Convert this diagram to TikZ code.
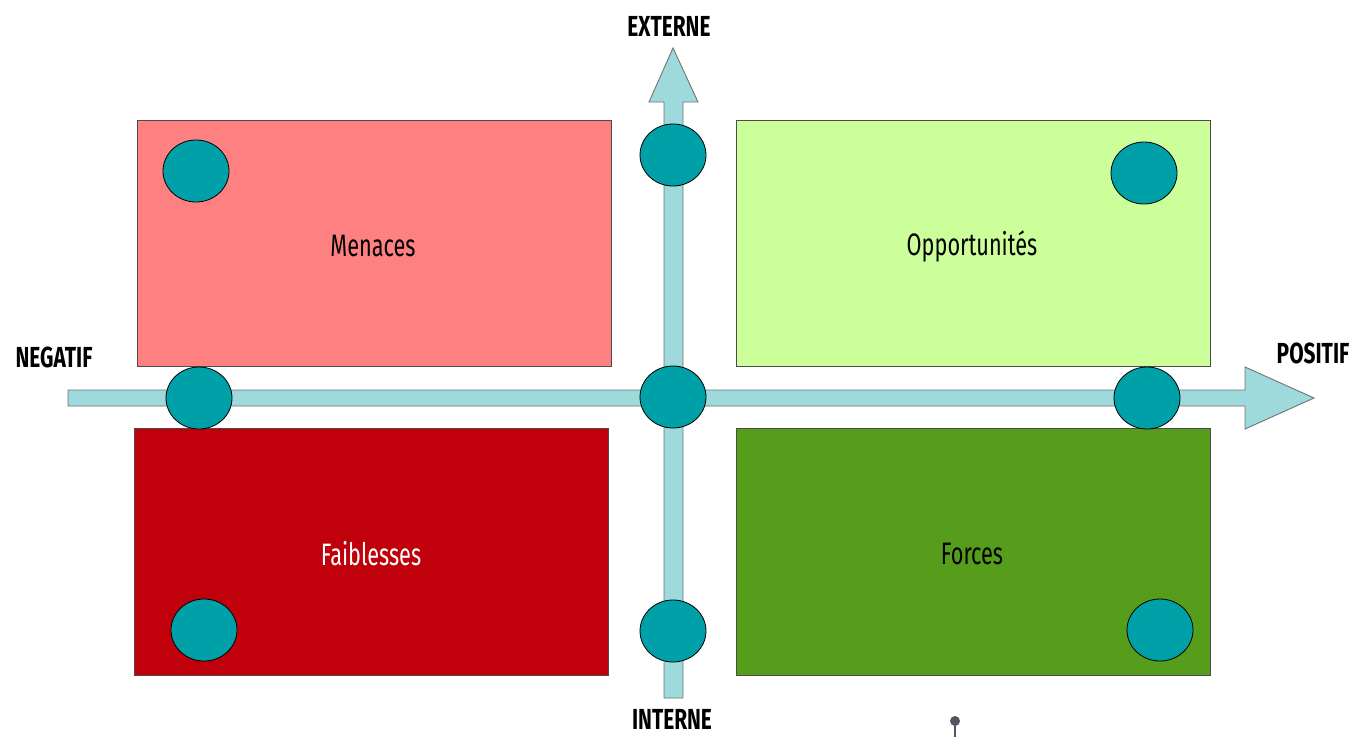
\documentclass[tikz,border=0pt]{standalone}
\usepackage{fontspec}
\setmainfont{Fira Sans}[FakeStretch=0.70]
\newfontfamily\axisfont{Fira Sans}[FakeStretch=0.72,UprightFont=* Bold]
\usetikzlibrary{shapes.geometric}
\definecolor{menc}{HTML}{FF8080}
\definecolor{oppc}{HTML}{CCFF99}
\definecolor{faic}{HTML}{C0000B}
\definecolor{forc}{HTML}{579D1C}
\definecolor{arrc}{HTML}{9ED9DC}
\definecolor{dotc}{HTML}{00A0A8}
\definecolor{pinc}{HTML}{505560}
\begin{document}
\begin{tikzpicture}[x=1pt,y=-1pt,
  quad/.style={draw=black!70,line width=0.8pt},
  dotn/.style={ellipse,draw=black,line width=0.8pt,fill=dotc,minimum width=66pt,minimum height=62pt,inner sep=0pt},
  arr/.style={draw=black!55,line width=0.9pt,fill=arrc},
  boxtext/.style={font=\fontsize{31}{32}\selectfont},
  axistext/.style={font=\axisfont\fontsize{29}{30}\selectfont}]
\useasboundingbox (0,0) rectangle (1351,737);
% quadrants
\fill[menc] (137,120) rectangle (611,366);
\draw[quad] (137,120) rectangle (611,366);
\fill[oppc] (736,120) rectangle (1210,366);
\draw[quad] (736,120) rectangle (1210,366);
\fill[faic] (134,428) rectangle (608,675);
\draw[quad] (134,428) rectangle (608,675);
\fill[forc] (736,428) rectangle (1210,675);
\draw[quad] (736,428) rectangle (1210,675);
% horizontal arrow
\draw[arr] (68,390) -- (1245,390) -- (1245,367) -- (1314,398) -- (1245,429) -- (1245,406) -- (68,406) -- cycle;
% vertical arrow
\draw[arr] (664,698) -- (664,102) -- (649,102) -- (673,48) -- (698,102) -- (683,102) -- (683,698) -- cycle;
% box labels
\node[boxtext] (tmen) at (373,246) {Menaces};
\node[boxtext] (topp) at (972,246) {Opportunités};
\node[boxtext,text=white] (tfai) at (371,554) {Faiblesses};
\node[boxtext] (tfor) at (972,554) {Forces};
% axis labels
\node[axistext] (ext) at (669,26) {EXTERNE};
\node[axistext] (int) at (672,719) {INTERNE};
\node[axistext] (neg) at (54,357) {NEGATIF};
\node[axistext] (pos) at (1313,353) {POSITIF};
% circles
\node[dotn] (c1) at (196,171) {};
\node[dotn] (c2) at (673,155) {};
\node[dotn] (c3) at (1144,173) {};
\node[dotn] (c4) at (199,398) {};
\node[dotn] (c5) at (673,397) {};
\node[dotn] (c6) at (1147,398) {};
\node[dotn] (c7) at (204,630) {};
\node[dotn] (c8) at (673,631) {};
\node[dotn] (c9) at (1160,630) {};
% small pin
\draw[pinc,line width=2.5pt] (955,722) -- (955,737);
\fill[pinc] (955,721) circle (5pt);
\end{tikzpicture}
\end{document}
